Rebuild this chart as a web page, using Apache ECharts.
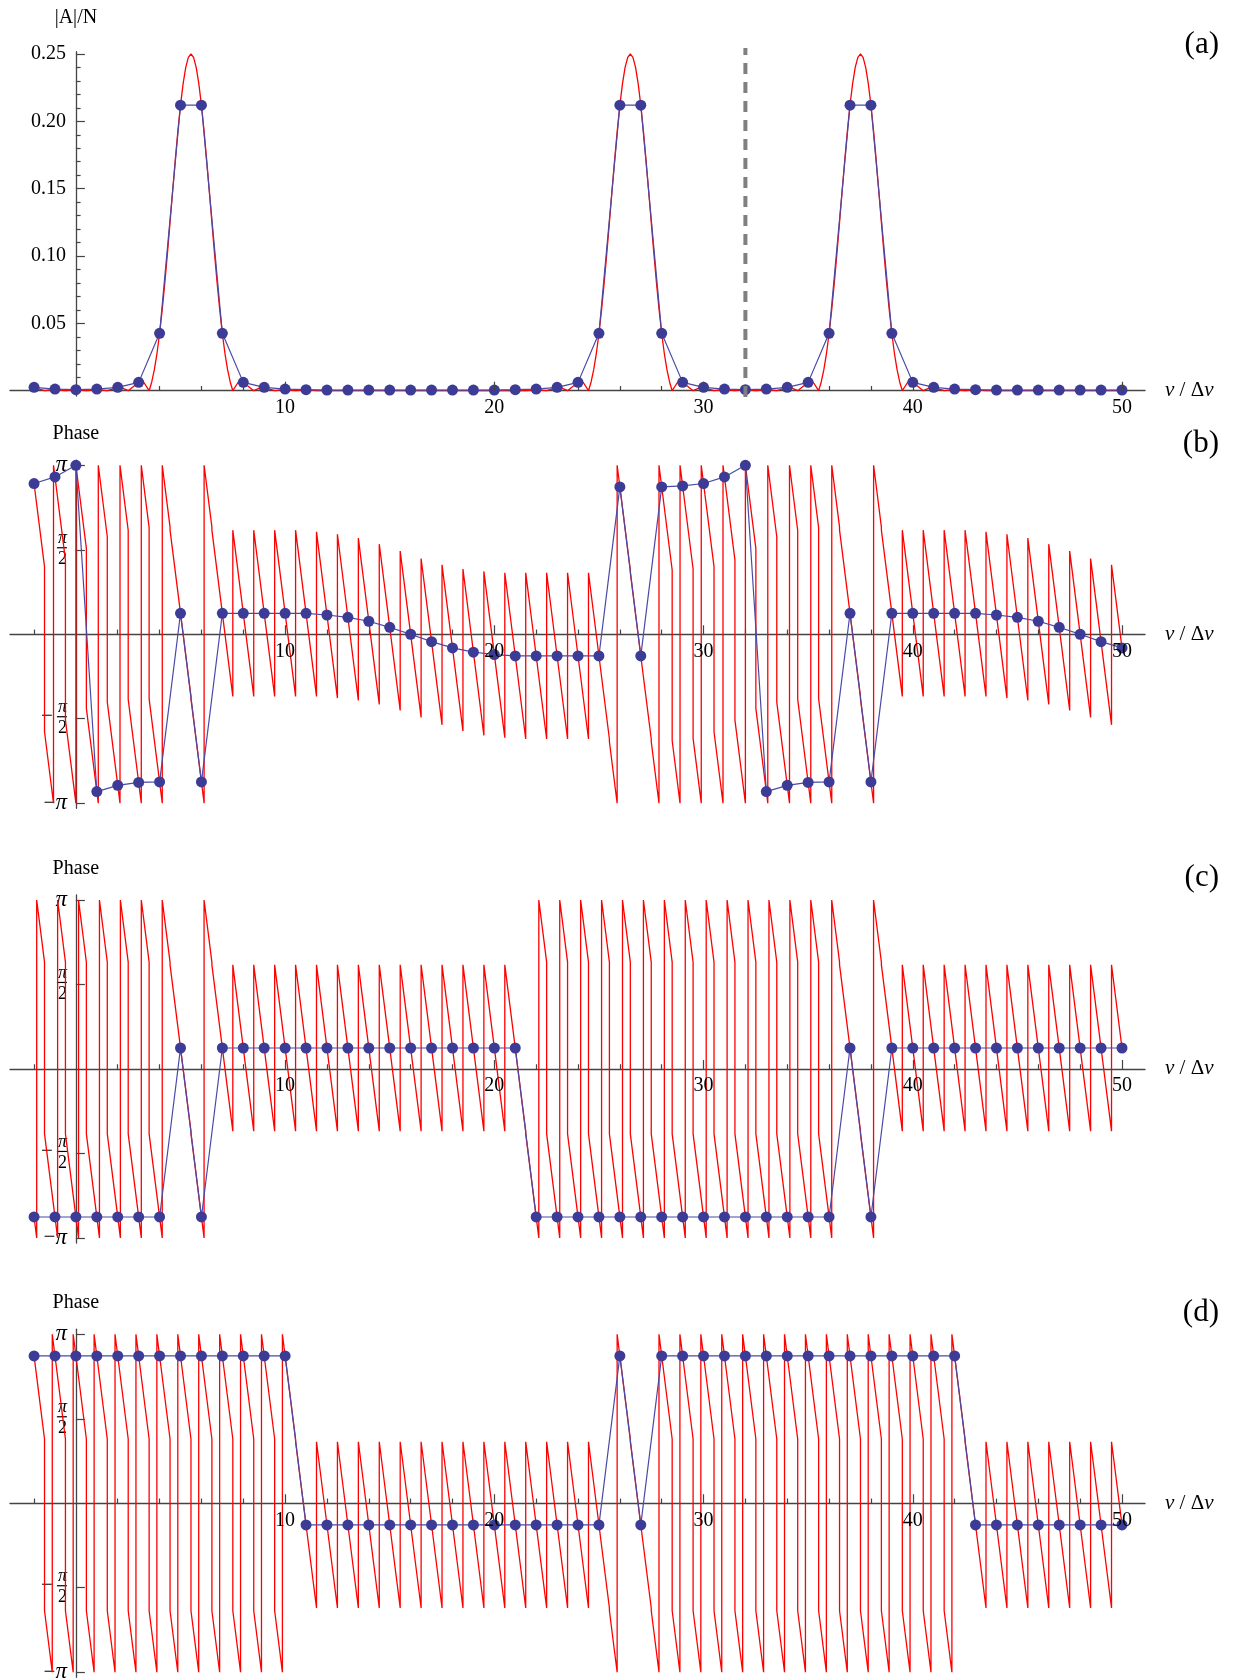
<!DOCTYPE html>
<html>
<head>
<meta charset="utf-8">
<script src="https://cdn.jsdelivr.net/npm/echarts@6/dist/echarts.min.js"></script>
<style>
  html, body { margin: 0; padding: 0; background: #ffffff; }
  #chart { width: 1233px; height: 1680px; }
</style>
</head>
<body>
<div id="chart"></div>
<script>
// ---- data -------------------------------------------------------------
// DFT bins ν/Δν
const bins = [-2,-1,0,1,2,3,4,5,6,7,8,9,10,11,12,13,14,15,16,17,18,19,20,21,22,23,24,
  25,26,27,28,29,30,31,32,33,34,35,36,37,38,39,40,41,42,43,44,45,46,47,48,49,50];

// |A|/N at the bins
const magnitude = [0.0025,0.0012,0.0008,0.0012,0.0025,0.0062,0.0426,0.212,0.212,0.0426,
  0.0062,0.0025,0.0012,0.0008,0.0005,0.0005,0.0005,0.0005,0.0005,0.0005,0.0005,0.0005,0.0005,
  0.0008,0.0012,0.0025,0.0062,0.0426,0.212,0.212,0.0426,0.0062,0.0025,0.0012,0.0008,
  0.0012,0.0025,0.0062,0.0426,0.212,0.212,0.0426,0.0062,0.0025,0.0012,0.0008,
  0.0005,0.0005,0.0005,0.0005,0.0005,0.0005,0.0005];

// continuous |A|/N between the bins
const magnitudeCurve = [
  [-2,0.0021],[-1.75,0.0012],[-1.5,0],[-1,0.0009],[-0.5,0],[0,0.0006],[0.5,0],[1,0.0008],[1.5,0],
  [1.75,0.0012],[2,0.0021],[2.25,0.0018],[2.5,0],[2.75,0.0031],[3,0.0061],[3.25,0.0061],[3.5,0],
  [3.625,0.0065],[3.75,0.0156],[3.875,0.0276],[4,0.0424],[4.125,0.06],[4.25,0.08],[4.375,0.102],[4.5,0.125],
  [4.625,0.1485],[4.75,0.1715],[4.875,0.193],[5,0.212],[5.125,0.228],[5.25,0.24],[5.375,0.2475],[5.5,0.25],
  [5.625,0.2475],[5.75,0.24],[5.875,0.228],[6,0.212],[6.125,0.193],[6.25,0.1715],[6.375,0.1485],[6.5,0.125],
  [6.625,0.102],[6.75,0.08],[6.875,0.06],[7,0.0424],[7.125,0.0276],[7.25,0.0156],[7.375,0.0065],[7.5,0],
  [7.75,0.0061],[8,0.0061],[8.25,0.0031],[8.5,0],[8.75,0.0018],[9,0.0021],[9.25,0.0012],[9.5,0],
  [10,0.0008],[10.5,0],[11,0.0006],[11.5,0],[21.5,0],[22,0.0006],[22.5,0],
  [22.75,0.0012],[23,0.0021],[23.25,0.0018],[23.5,0],[23.75,0.0031],[24,0.0061],[24.25,0.0061],[24.5,0],
  [24.625,0.0065],[24.75,0.0156],[24.875,0.0276],[25,0.0424],[25.125,0.06],[25.25,0.08],[25.375,0.102],[25.5,0.125],
  [25.625,0.1485],[25.75,0.1715],[25.875,0.193],[26,0.212],[26.125,0.228],[26.25,0.24],[26.375,0.2475],[26.5,0.25],
  [26.625,0.2475],[26.75,0.24],[26.875,0.228],[27,0.212],[27.125,0.193],[27.25,0.1715],[27.375,0.1485],[27.5,0.125],
  [27.625,0.102],[27.75,0.08],[27.875,0.06],[28,0.0424],[28.125,0.0276],[28.25,0.0156],[28.375,0.0065],[28.5,0],
  [28.75,0.0061],[29,0.0061],[29.25,0.0031],[29.5,0],[29.75,0.0018],[30,0.0021],[30.25,0.0012],[30.5,0],
  [31,0.0009],[31.5,0],[32,0.0008],[32.5,0],[33,0.0009],[33.5,0],
  [33.75,0.0012],[34,0.0021],[34.25,0.0018],[34.5,0],[34.75,0.0031],[35,0.0061],[35.25,0.0061],[35.5,0],
  [35.625,0.0065],[35.75,0.0156],[35.875,0.0276],[36,0.0424],[36.125,0.06],[36.25,0.08],[36.375,0.102],[36.5,0.125],
  [36.625,0.1485],[36.75,0.1715],[36.875,0.193],[37,0.212],[37.125,0.228],[37.25,0.24],[37.375,0.2475],[37.5,0.25],
  [37.625,0.2475],[37.75,0.24],[37.875,0.228],[38,0.212],[38.125,0.193],[38.25,0.1715],[38.375,0.1485],[38.5,0.125],
  [38.625,0.102],[38.75,0.08],[38.875,0.06],[39,0.0424],[39.125,0.0276],[39.25,0.0156],[39.375,0.0065],[39.5,0],
  [39.75,0.0061],[40,0.0061],[40.25,0.0031],[40.5,0],[40.75,0.0018],[41,0.0021],[41.25,0.0012],[41.5,0],
  [42,0.0008],[42.5,0],[43,0.0006],[43.5,0],[50,0]
];

// Nyquist marker (bin and vertical extent)
const nyquistBin = 32;
const nyquistSpan = [-0.0047, 0.2544];

// phases at the bins, in units of π
const phaseB = [0.892,0.931,1.0,-0.931,-0.894,-0.877,-0.874,0.124,-0.874,0.124,0.124,0.124,0.124,0.124,
  0.114,0.100,0.077,0.041,0.0,-0.044,-0.081,-0.106,-0.120,-0.128,-0.128,-0.128,-0.128,-0.128,
  0.872,-0.128,0.872,0.878,0.892,0.931,1.0,-0.931,-0.894,-0.877,-0.874,0.124,-0.874,
  0.124,0.124,0.124,0.124,0.124,0.114,0.100,0.077,0.041,0.0,-0.044,-0.081];
const phaseC = [-0.876,-0.876,-0.876,-0.876,-0.876,-0.876,-0.876,0.124,-0.876,
  0.124,0.124,0.124,0.124,0.124,0.124,0.124,0.124,0.124,0.124,0.124,0.124,0.124,0.124,0.124,
  -0.876,-0.876,-0.876,-0.876,-0.876,-0.876,-0.876,-0.876,-0.876,-0.876,-0.876,-0.876,-0.876,-0.876,-0.876,
  0.124,-0.876,0.124,0.124,0.124,0.124,0.124,0.124,0.124,0.124,0.124,0.124,0.124,0.124];
const phaseD = [0.872,0.872,0.872,0.872,0.872,0.872,0.872,0.872,0.872,0.872,0.872,0.872,0.872,
  -0.128,-0.128,-0.128,-0.128,-0.128,-0.128,-0.128,-0.128,-0.128,-0.128,-0.128,-0.128,-0.128,-0.128,-0.128,
  0.872,-0.128,0.872,0.872,0.872,0.872,0.872,0.872,0.872,0.872,0.872,0.872,0.872,0.872,0.872,0.872,0.872,
  -0.128,-0.128,-0.128,-0.128,-0.128,-0.128,-0.128,-0.128];

// continuous phase: start point, vertical jumps [x, from, to] (π units), end point
const phaseStartB = [-2, 0.892];
const phaseJumpsB = [
  [-1.5,0.4,-0.577],[-1.07,-1,1],[-0.5,0.439,-0.508],[0,-1,1],[0.5,0.508,-0.439],[1.07,-1,1],
  [1.5,0.577,-0.402],[2.108,-1,1],[2.5,0.614,-0.385],[3.125,-1,1],[3.5,0.631,-0.382],[4.128,-1,1],
  [4.5,0.634,0.616],[5.5,-0.368,-0.382],[6.128,-1,1],[6.5,0.634,0.616],
  [7.5,-0.368,0.616],[8.5,-0.368,0.616],[9.5,-0.368,0.616],[10.5,-0.368,0.616],[11.5,-0.368,0.606],
  [12.5,-0.378,0.592],[13.5,-0.392,0.569],[14.5,-0.415,0.533],[15.5,-0.451,0.492],[16.5,-0.492,0.448],
  [17.5,-0.536,0.411],[18.5,-0.573,0.386],[19.5,-0.598,0.372],[20.5,-0.612,0.364],[21.5,-0.62,0.364],
  [22.5,-0.62,0.364],[23.5,-0.62,0.364],[24.5,-0.62,0.364],[25.5,-0.62,-0.636],[25.87,-1,1],
  [26.5,0.38,0.364],[27.5,-0.62,-0.636],[27.87,-1,1],[28.5,0.38,-0.63],[28.876,-1,1],
  [29.5,0.386,-0.616],[29.89,-1,1],[30.5,0.4,-0.577],[30.93,-1,1],[31.5,0.439,-0.508],[32,-1,1],
  [32.5,0.508,-0.439],[33.07,-1,1],[33.5,0.577,-0.402],[34.108,-1,1],[34.5,0.614,-0.385],[35.125,-1,1],
  [35.5,0.631,-0.382],[36.128,-1,1],[36.5,0.634,0.616],[37.5,-0.368,-0.382],[38.128,-1,1],
  [38.5,0.634,0.616],[39.5,-0.368,0.616],[40.5,-0.368,0.616],[41.5,-0.368,0.616],[42.5,-0.368,0.616],
  [43.5,-0.368,0.606],[44.5,-0.378,0.592],[45.5,-0.392,0.569],[46.5,-0.415,0.533],[47.5,-0.451,0.492],
  [48.5,-0.492,0.448],[49.5,-0.536,0.411]
];
const phaseEndB = [50, -0.081];

const phaseStartC = [-2, -0.876];
const phaseJumpsC = [
  [-1.874,-1,1],[-1.5,0.632,-0.384],[-0.874,-1,1],[-0.5,0.632,-0.384],[0.126,-1,1],
  [0.5,0.632,-0.384],[1.126,-1,1],[1.5,0.632,-0.384],[2.126,-1,1],[2.5,0.632,-0.384],[3.126,-1,1],
  [3.5,0.632,-0.384],[4.126,-1,1],[4.5,0.632,0.616],[5.5,-0.368,-0.384],[6.126,-1,1],[6.5,0.632,0.616],
  [7.5,-0.368,0.616],[8.5,-0.368,0.616],[9.5,-0.368,0.616],[10.5,-0.368,0.616],[11.5,-0.368,0.616],
  [12.5,-0.368,0.616],[13.5,-0.368,0.616],[14.5,-0.368,0.616],[15.5,-0.368,0.616],[16.5,-0.368,0.616],
  [17.5,-0.368,0.616],[18.5,-0.368,0.616],[19.5,-0.368,0.616],[20.5,-0.368,0.616],
  [21.5,-0.368,-0.384],[22.126,-1,1],[22.5,0.632,-0.384],[23.126,-1,1],[23.5,0.632,-0.384],[24.126,-1,1],
  [24.5,0.632,-0.384],[25.126,-1,1],[25.5,0.632,-0.384],[26.126,-1,1],[26.5,0.632,-0.384],[27.126,-1,1],
  [27.5,0.632,-0.384],[28.126,-1,1],[28.5,0.632,-0.384],[29.126,-1,1],[29.5,0.632,-0.384],[30.126,-1,1],
  [30.5,0.632,-0.384],[31.126,-1,1],[31.5,0.632,-0.384],[32.126,-1,1],[32.5,0.632,-0.384],[33.126,-1,1],
  [33.5,0.632,-0.384],[34.126,-1,1],[34.5,0.632,-0.384],[35.126,-1,1],[35.5,0.632,-0.384],[36.126,-1,1],
  [36.5,0.632,0.616],[37.5,-0.368,-0.384],[38.126,-1,1],[38.5,0.632,0.616],
  [39.5,-0.368,0.616],[40.5,-0.368,0.616],[41.5,-0.368,0.616],[42.5,-0.368,0.616],[43.5,-0.368,0.616],
  [44.5,-0.368,0.616],[45.5,-0.368,0.616],[46.5,-0.368,0.616],[47.5,-0.368,0.616],[48.5,-0.368,0.616],
  [49.5,-0.368,0.616]
];
const phaseEndC = [50, 0.124];

const phaseStartD = [-2, 0.872];
const phaseJumpsD = [
  [-1.5,0.38,-0.636],[-1.13,-1,1],[-0.5,0.38,-0.636],[-0.13,-1,1],[0.5,0.38,-0.636],[0.87,-1,1],
  [1.5,0.38,-0.636],[1.87,-1,1],[2.5,0.38,-0.636],[2.87,-1,1],[3.5,0.38,-0.636],[3.87,-1,1],
  [4.5,0.38,-0.636],[4.87,-1,1],[5.5,0.38,-0.636],[5.87,-1,1],[6.5,0.38,-0.636],[6.87,-1,1],
  [7.5,0.38,-0.636],[7.87,-1,1],[8.5,0.38,-0.636],[8.87,-1,1],[9.5,0.38,-0.636],[9.87,-1,1],
  [10.5,0.38,0.364],
  [11.5,-0.62,0.364],[12.5,-0.62,0.364],[13.5,-0.62,0.364],[14.5,-0.62,0.364],[15.5,-0.62,0.364],
  [16.5,-0.62,0.364],[17.5,-0.62,0.364],[18.5,-0.62,0.364],[19.5,-0.62,0.364],[20.5,-0.62,0.364],
  [21.5,-0.62,0.364],[22.5,-0.62,0.364],[23.5,-0.62,0.364],[24.5,-0.62,0.364],
  [25.5,-0.62,-0.636],[25.87,-1,1],[26.5,0.38,0.364],[27.5,-0.62,-0.636],[27.87,-1,1],
  [28.5,0.38,-0.636],[28.87,-1,1],[29.5,0.38,-0.636],[29.87,-1,1],[30.5,0.38,-0.636],[30.87,-1,1],
  [31.5,0.38,-0.636],[31.87,-1,1],[32.5,0.38,-0.636],[32.87,-1,1],[33.5,0.38,-0.636],[33.87,-1,1],
  [34.5,0.38,-0.636],[34.87,-1,1],[35.5,0.38,-0.636],[35.87,-1,1],[36.5,0.38,-0.636],[36.87,-1,1],
  [37.5,0.38,-0.636],[37.87,-1,1],[38.5,0.38,-0.636],[38.87,-1,1],[39.5,0.38,-0.636],[39.87,-1,1],
  [40.5,0.38,-0.636],[40.87,-1,1],[41.5,0.38,-0.636],[41.87,-1,1],
  [42.5,0.38,0.364],
  [43.5,-0.62,0.364],[44.5,-0.62,0.364],[45.5,-0.62,0.364],[46.5,-0.62,0.364],[47.5,-0.62,0.364],
  [48.5,-0.62,0.364],[49.5,-0.62,0.364]
];
const phaseEndD = [50, -0.128];

// tick positions
const xTicksMinor = [-2,2,4,6,8,12,14,16,18,22,24,26,28,32,34,36,38,42,44,46,48];
const xTicksMajor = [10,20,30,40,50];
const magTicks = [0.05,0.1,0.15,0.2,0.25];
const magMinorTicks = [0.01,0.02,0.03,0.04,0.06,0.07,0.08,0.09,0.11,0.12,0.13,0.14,
  0.16,0.17,0.18,0.19,0.21,0.22,0.23,0.24];
const phaseTicks = [-1,-0.5,0.5,1];

// ---- layout & style ------------------------------------------------------
const FONT = 'Liberation Serif';
const RED = '#ff0000';
const BLUE = '#3c3c96';
const BLUE_LINE = '#4a4aa6';
const AXIS = '#444444';
const X_MIN = -3.15, X_MAX = 51.1;
const GRID_LEFT = 10, GRID_WIDTH = 1135;

const panels = [
  { top: 51.7,   height: 344.4, yMin: -0.004, yMax: 0.2517, letter: '(a)', letterY: 45 },
  { top: 460.2,  height: 348.1, yMin: -1.03,  yMax: 1.03,   letter: '(b)', letterY: 444 },
  { top: 894.9,  height: 348.1, yMin: -1.03,  yMax: 1.03,   letter: '(c)', letterY: 878 },
  { top: 1329.2, height: 348.1, yMin: -1.03,  yMax: 1.03,   letter: '(d)', letterY: 1313 }
];

function phaseCurve(start, jumps, end) {
  const pts = [start];
  jumps.forEach(j => { pts.push([j[0], j[1]], [j[0], j[2]]); });
  pts.push(end);
  return pts;
}
const pairs = ys => bins.map((x, i) => [x, ys[i]]);

const xZeroFromLeft = GRID_WIDTH * (0 - X_MIN) / (X_MAX - X_MIN);

const grids = panels.map(p => ({
  left: GRID_LEFT, width: GRID_WIDTH, top: p.top, height: p.height,
  containLabel: false, outerBoundsMode: 'none'
}));

const tickLine = { color: AXIS, width: 1.2 };
const labelText = { fontFamily: FONT, fontSize: 20, color: '#000' };

const xAxes = [];
panels.forEach((p, i) => {
  const zeroFromBottom = p.height * (0 - p.yMin) / (p.yMax - p.yMin);
  xAxes.push({
    gridIndex: i, type: 'value', min: X_MIN, max: X_MAX, position: 'bottom',
    offset: -zeroFromBottom,
    axisLine: { show: true, onZero: false, lineStyle: { color: AXIS, width: 1.3 } },
    axisTick: { show: true, customValues: xTicksMinor, length: 4.7, inside: true, lineStyle: tickLine },
    axisLabel: { show: false },
    splitLine: { show: false },
    name: '{i|ν} / Δ{i|ν}', nameLocation: 'end', nameGap: 20, nameMoveOverlap: false,
    nameTextStyle: { fontFamily: FONT, fontSize: 21, color: '#000',
      rich: { i: { fontFamily: FONT, fontSize: 21, fontStyle: 'italic', color: '#000' } } }
  });
  xAxes.push({
    gridIndex: i, type: 'value', min: X_MIN, max: X_MAX, position: 'top',
    offset: -(p.height - zeroFromBottom), z: 5,
    axisLine: { show: false, onZero: false },
    axisTick: { show: true, customValues: xTicksMajor, length: 9, inside: false, lineStyle: tickLine },
    axisLabel: Object.assign({ show: true, customValues: xTicksMajor, inside: true, margin: 7 }, labelText),
    splitLine: { show: false }
  });
});

const phaseRich = {
  pi: { fontFamily: FONT, fontSize: 23, fontStyle: 'italic', color: '#000' },
  mi: { fontFamily: FONT, fontSize: 21, color: '#000' },
  fn: { fontFamily: FONT, fontSize: 18, fontStyle: 'italic', lineHeight: 15, color: '#000' },
  fd: { fontFamily: FONT, fontSize: 18, lineHeight: 19, color: '#000' },
  bar: { width: 10, height: 1.2, lineHeight: 4, backgroundColor: '#000' },
  mm: { fontFamily: FONT, fontSize: 21, lineHeight: 4, color: '#000', padding: [0, 4, 0, 0] }
};
function phaseLabel(v) {
  if (v === 1) return '{pi|π}';
  if (v === -1) return '{mi|−}{pi|π}';
  if (v === 0.5) return '{fn|π}\n{bar|}\n{fd|2}';
  return '{fn|π}\n{mm|−}{bar|}\n{fd|2}';
}

const yAxes = [
  {
    gridIndex: 0, type: 'value', min: panels[0].yMin, max: panels[0].yMax, position: 'left',
    offset: -xZeroFromLeft,
    axisLine: { show: true, onZero: false, lineStyle: { color: AXIS, width: 1.3 } },
    axisTick: { show: true, customValues: magTicks, length: 9, inside: true, lineStyle: tickLine },
    axisLabel: Object.assign({ show: true, customValues: magTicks, margin: 10,
      formatter: v => v.toFixed(2) }, labelText),
    splitLine: { show: false },
    name: '|A|/N', nameLocation: 'end', nameGap: 24, nameMoveOverlap: false,
    nameTextStyle: { fontFamily: FONT, fontSize: 20, color: '#000' }
  },
  {
    gridIndex: 0, type: 'value', min: panels[0].yMin, max: panels[0].yMax, position: 'right',
    offset: -(GRID_WIDTH - xZeroFromLeft),
    axisLine: { show: false, onZero: false },
    axisTick: { show: true, customValues: magMinorTicks, length: 4.7, inside: false, lineStyle: tickLine },
    axisLabel: { show: false },
    splitLine: { show: false }
  }
];
[1, 2, 3].forEach(i => {
  const p = panels[i];
  yAxes.push({
    gridIndex: i, type: 'value', min: p.yMin, max: p.yMax, position: 'left',
    offset: -xZeroFromLeft,
    axisLine: { show: true, onZero: false, lineStyle: { color: AXIS, width: 1.3 } },
    axisTick: { show: true, customValues: phaseTicks, length: 9, inside: true, lineStyle: tickLine },
    axisLabel: { show: true, customValues: phaseTicks, margin: 9, formatter: phaseLabel,
      fontFamily: FONT, fontSize: 20, color: '#000', rich: phaseRich },
    splitLine: { show: false },
    name: 'Phase', nameLocation: 'end', nameGap: 16, nameMoveOverlap: false,
    nameTextStyle: { fontFamily: FONT, fontSize: 20, color: '#000' }
  });
});

function curveSeries(xi, yi, data) {
  return { type: 'line', xAxisIndex: xi, yAxisIndex: yi, data: data, symbol: 'none',
    showSymbol: false, clip: false, silent: true, z: 2,
    lineStyle: { color: RED, width: 1.3 } };
}
function binSeries(xi, yi, data) {
  return { type: 'line', xAxisIndex: xi, yAxisIndex: yi, data: data, symbol: 'circle',
    symbolSize: 11, showSymbol: true, showAllSymbol: true, clip: false, silent: true, z: 3,
    itemStyle: { color: BLUE }, lineStyle: { color: BLUE_LINE, width: 1.2 } };
}

const series = [
  curveSeries(0, 0, magnitudeCurve),
  binSeries(0, 0, pairs(magnitude)),
  { type: 'line', xAxisIndex: 0, yAxisIndex: 0, symbol: 'none', clip: false, silent: true, z: 4,
    data: [[nyquistBin, nyquistSpan[0]], [nyquistBin, nyquistSpan[1]]],
    lineStyle: { color: '#7f7f7f', width: 4, type: [11, 8] } },
  curveSeries(2, 2, phaseCurve(phaseStartB, phaseJumpsB, phaseEndB)),
  binSeries(2, 2, pairs(phaseB)),
  curveSeries(4, 3, phaseCurve(phaseStartC, phaseJumpsC, phaseEndC)),
  binSeries(4, 3, pairs(phaseC)),
  curveSeries(6, 4, phaseCurve(phaseStartD, phaseJumpsD, phaseEndD)),
  binSeries(6, 4, pairs(phaseD))
];

const graphic = panels.map(p => ({
  type: 'text', x: 1219, y: p.letterY, silent: true,
  style: { text: p.letter, fontFamily: FONT, fontSize: 31, fill: '#000',
    align: 'right', verticalAlign: 'middle' }
}));

const chart = echarts.init(document.getElementById('chart'), null, { renderer: 'canvas' });
chart.setOption({
  animation: false,
  backgroundColor: '#ffffff',
  textStyle: { fontFamily: FONT },
  grid: grids,
  xAxis: xAxes,
  yAxis: yAxes,
  series: series,
  graphic: graphic
});
</script>
</body>
</html>
